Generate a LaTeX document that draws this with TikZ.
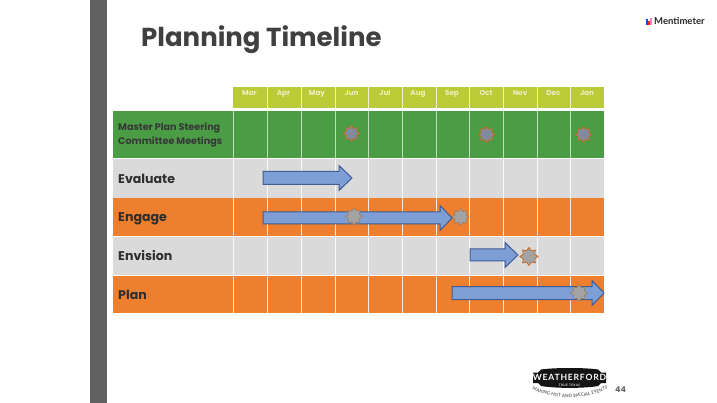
\documentclass[tikz,border=0pt]{standalone}
\usepackage{fontspec}
\setmainfont{Poppins}
\newfontfamily\lato{Lato}
\newfontfamily\latosp[LetterSpace=9]{Lato}
\usetikzlibrary{shapes.geometric,decorations.text}
\definecolor{hdr}{HTML}{BBCB38}
\definecolor{grn}{HTML}{4A9C45}
\definecolor{gry}{HTML}{DADADA}
\definecolor{org}{HTML}{EE7F2F}
\definecolor{arr}{HTML}{7E9FD6}
\definecolor{arrl}{HTML}{3F5C94}
\definecolor{ttl}{HTML}{404040}
\newcommand\blockarrow[6]{% name, x0, xhead, xtip, yc, half body
  \draw[flowarrow] (#2,#5-#6) -- (#3,#5-#6) -- (#3,#5-12.5) -- (#4,#5) -- (#3,#5+12.5) -- (#3,#5+#6) -- (#2,#5+#6) -- cycle;
  \coordinate (#1) at (#2,#5);}
\tikzset{
  x=1pt,y=-1pt,
  flowarrow/.style={draw=arrl,fill=arr,line width=1pt,line join=miter},
  month/.style={anchor=base,text=white!70!hdr,font=\fontsize{7.2}{9}\selectfont\bfseries,inner sep=0pt},
  rowlabel/.style={anchor=base west,inner sep=0pt,text=black!82,font=\fontsize{12.6}{14}\selectfont\bfseries},
  meet/.style={star,star points=8,star point ratio=1.45,minimum size=16pt,inner sep=0pt,draw=org!85!black,line width=.8pt,fill=gray!65!arr},
  greymeet/.style={star,star points=8,star point ratio=1.45,minimum size=17pt,inner sep=0pt,draw=gray!75!orange,line width=.7pt,fill=black!36},
}
\begin{document}
\begin{tikzpicture}
\useasboundingbox (0,0) rectangle (717,403);
\fill[white] (0,0) rectangle (717,403);
\fill[black!62] (90,0) rectangle (107,403);
\node[anchor=west,inner sep=0pt,text=ttl,font=\fontsize{26}{30}\selectfont\bfseries] (title) at (141,40) {Planning Timeline};
% bands
\fill[hdr] (233,87) rectangle (604,108);
\fill[grn] (113,111) rectangle (604,158);
\fill[gry] (113,159.5) rectangle (604,198);
\fill[org] (113,198) rectangle (604,236);
\fill[gry] (113,237) rectangle (604,275);
\fill[org] (113,275.5) rectangle (604,313);
% grid
\foreach \x in {267,301,335,368.5,402,436,469.5,503,537,570.5}{
  \draw[white!75!hdr,line width=.8pt] (\x,87) -- (\x,108);
}
\foreach \x in {233,267,301,335,368.5,402,436,469.5,503,537,570.5}{
  \draw[white!65!grn,line width=.7pt] (\x,111) -- (\x,158);
  \draw[white,line width=.8pt,opacity=.85] (\x,159) -- (\x,313);
}
% months
\foreach \m/\x in {Mar/249.5,Apr/283.5,May/317,Jun/351.5,Jul/385,Aug/418,Sep/452,Oct/486,Nov/520,Dec/553.5,Jan/587}{
  \node[month] (m\m) at (\x,96) {\m};
}
% labels
\node[anchor=west,align=left,inner sep=0pt,text=black!78,font=\fontsize{9.6}{13.5}\selectfont\bfseries] (lmaster) at (118,135) {Master Plan Steering\\Committee Meetings};
\node[rowlabel] (levaluate) at (118,184) {Evaluate};
\node[rowlabel] (lengage) at (118,222) {Engage};
\node[rowlabel] (lenvision) at (118,260.5) {Envision};
\node[rowlabel] (lplan) at (118,299) {Plan};
% stars in steering row
\node[meet] (s1) at (351.5,133.5) {};
\node[meet] (s2) at (486.5,134.5) {};
\node[meet] (s3) at (583.5,134.5) {};
% arrows
\blockarrow{aeval}{263}{339}{352}{178}{6.5}
\blockarrow{aeng}{263}{440}{452}{218}{6}
\blockarrow{aenv}{470}{505}{518}{255}{6}
\blockarrow{aplan}{452}{592}{604}{293}{6.5}
% stars over arrows
\node[greymeet] (s4) at (354,216.5) {};
\node[greymeet] (s5) at (460.5,217) {};
\node[meet,fill=black!36,minimum size=18pt] (s6) at (529,256.5) {};
\node[greymeet] (s7) at (579,293) {};
% Mentimeter
\fill[blue!70!cyan] (646,19) rectangle (648,25);
\fill[red!70!orange] (648,21) rectangle (650,25);
\fill[magenta!50] (650,18.5) rectangle (652,25);
\node[anchor=west,inner sep=0pt,text=black!85,font=\lato\fontsize{9.5}{11}\selectfont\bfseries] (menti) at (654,21.5) {Mentimeter};
% Weatherford logo
\fill[black!92] (533,372.5) -- (538,372.5) -- (541,369.5) .. controls (555,367.5) and (585,367.5) .. (598,369.5) -- (601,372.5) -- (606,372.5) -- (606,383) -- (601,383) -- (598,386) .. controls (585,388.5) and (555,388.5) .. (541,386) -- (538,383) -- (533,383) -- cycle;
\node[inner sep=0pt,text=white,font=\latosp\fontsize{8.6}{10}\selectfont\bfseries] (wf) at (569.5,377.7) {WEATHERFORD};
\node[inner sep=0pt,text=white!85!black,font=\latosp\fontsize{3.2}{4}\selectfont\bfseries] (wft) at (569.5,385.2) {TRUE TEXAS};
\path[decorate,decoration={text along path,text align=center,raise=-1pt,text={|\lato\fontsize{4.5}{5}\selectfont\bfseries\color{black!60}|MAKING HOT AND SPECIAL EVENTS}}]
  (533,389) .. controls (555,399) and (585,399) .. (607,388);
\node[inner sep=0pt,text=black!60,font=\fontsize{8}{10}\selectfont\bfseries] (pg) at (620.5,389.5) {44};
\end{tikzpicture}
\end{document}
